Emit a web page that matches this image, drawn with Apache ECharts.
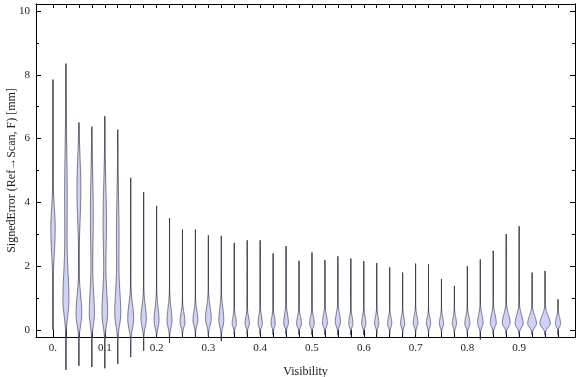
<!DOCTYPE html>
<html>
<head>
<meta charset="utf-8">
<script src="https://cdn.jsdelivr.net/npm/echarts@6/dist/echarts.min.js"></script>
<style>
  html, body { margin: 0; padding: 0; background: #fff; }
  #chart-panel { width: 576px; height: 377px; }
</style>
</head>
<body>
<div id="chart-panel"></div>
<script>
// violin positions (Visibility bins)
var visibility = [0, 0.025, 0.05, 0.075, 0.1, 0.125, 0.15, 0.175, 0.2, 0.225,
                  0.25, 0.275, 0.3, 0.325, 0.35, 0.375, 0.4, 0.425, 0.45, 0.475,
                  0.5, 0.525, 0.55, 0.575, 0.6, 0.625, 0.65, 0.675, 0.7, 0.725,
                  0.75, 0.775, 0.8, 0.825, 0.85, 0.875, 0.9, 0.925, 0.95, 0.975];
var maxError = [7.85, 8.35, 6.5, 6.37, 6.7, 6.28, 4.77, 4.32, 3.89, 3.51,
                3.15, 3.15, 2.97, 2.95, 2.73, 2.81, 2.81, 2.40, 2.63, 2.17,
                2.43, 2.19, 2.31, 2.24, 2.16, 2.10, 1.96, 1.80, 2.08, 2.06,
                1.60, 1.38, 2.0, 2.21, 2.48, 3.01, 3.25, 1.80, 1.85, 0.96];
var minError = [0, -1.25, -1.12, -1.16, -1.2, -1.06, -0.85, -0.65, -0.15, -0.4,
                -0.2, -0.2, -0.2, -0.35, -0.15, -0.15, -0.15, -0.15, -0.15, -0.15,
                -0.15, -0.15, -0.15, -0.15, -0.15, -0.15, -0.15, -0.15, -0.15, -0.15,
                -0.15, -0.15, -0.15, -0.3, -0.15, -0.15, -0.15, -0.15, -0.15, -0.15];
// main density peak: location, relative width, spread below / above
var modeError = [3.2, 0.9, 0.5, 0.5, 0.5, 0.5, 0.35, 0.35, 0.3, 0.3,
                 0.25, 0.3, 0.35, 0.3, 0.2, 0.2, 0.2, 0.2, 0.22, 0.2,
                 0.2, 0.22, 0.25, 0.2, 0.2, 0.2, 0.2, 0.2, 0.22, 0.2,
                 0.2, 0.2, 0.2, 0.22, 0.22, 0.22, 0.2, 0.2, 0.2, 0.2];
var peakDensity = [0.34, 0.44, 0.44, 0.38, 0.42, 0.44, 0.46, 0.42, 0.38, 0.38,
                   0.38, 0.38, 0.44, 0.38, 0.33, 0.33, 0.33, 0.33, 0.36, 0.38,
                   0.36, 0.38, 0.4, 0.33, 0.33, 0.33, 0.33, 0.33, 0.36, 0.33,
                   0.33, 0.33, 0.4, 0.42, 0.46, 0.6, 0.62, 0.68, 0.8, 0.4];
var spreadBelow = [0.8, 0.45, 0.35, 0.35, 0.35, 0.35, 0.3, 0.25, 0.22, 0.22,
                   0.16, 0.16, 0.2, 0.2, 0.11, 0.11, 0.11, 0.11, 0.12, 0.11,
                   0.11, 0.12, 0.13, 0.11, 0.11, 0.11, 0.11, 0.11, 0.12, 0.11,
                   0.11, 0.11, 0.11, 0.13, 0.12, 0.12, 0.12, 0.12, 0.12, 0.1];
var spreadAbove = [0.65, 0.9, 0.6, 0.7, 0.7, 0.7, 0.45, 0.4, 0.4, 0.4,
                   0.28, 0.3, 0.38, 0.4, 0.22, 0.22, 0.25, 0.22, 0.28, 0.22,
                   0.22, 0.25, 0.27, 0.22, 0.22, 0.22, 0.2, 0.2, 0.22, 0.2,
                   0.2, 0.2, 0.22, 0.26, 0.27, 0.27, 0.27, 0.24, 0.24, 0.2];
// second (upper) density bump, only for the lowest visibilities
var upperMode = [0, 4.2, 4.4, 3.6, 3.4, 3.0, 0, 0, 0, 0,
                 0, 0, 0, 0, 0, 0, 0, 0, 0, 0,
                 0, 0, 0, 0, 0, 0, 0, 0, 0, 0,
                 0, 0, 0, 0, 0, 0, 0, 0, 0, 0];
var upperDensity = [0, 0.2, 0.3, 0.22, 0.26, 0.2, 0, 0, 0, 0,
                    0, 0, 0, 0, 0, 0, 0, 0, 0, 0,
                    0, 0, 0, 0, 0, 0, 0, 0, 0, 0,
                    0, 0, 0, 0, 0, 0, 0, 0, 0, 0];
var upperSpread = [1, 1.6, 1.0, 1.3, 1.2, 1.2, 1, 1, 1, 1,
                   1, 1, 1, 1, 1, 1, 1, 1, 1, 1,
                   1, 1, 1, 1, 1, 1, 1, 1, 1, 1,
                   1, 1, 1, 1, 1, 1, 1, 1, 1, 1];
var xLabels = [0, 0.1, 0.2, 0.3, 0.4, 0.5, 0.6, 0.7, 0.8, 0.9];
var yMajor = [0, 2, 4, 6, 8, 10];
var yMinor = [1, 3, 5, 7, 9];
var binWidth = 0.025;

var violins = visibility.map(function (v, i) {
    return [v, minError[i], maxError[i], modeError[i], peakDensity[i],
            spreadBelow[i], spreadAbove[i], upperMode[i], upperDensity[i], upperSpread[i]];
});

var myChart = echarts.init(document.getElementById('chart-panel'), null, {renderer: 'canvas'});
var serif = 'Liberation Serif, Times New Roman, serif';
var lineStyle = {color: '#000', width: 1};

function yAxisOf(pos, ticks, len, labels) {
    return {
        type: 'value', position: pos, offset: 0,
        min: -0.22, max: 10.22,
        axisLine: {show: true, onZero: false, lineStyle: lineStyle},
        axisTick: {show: true, inside: true, length: len, customValues: ticks, lineStyle: lineStyle},
        axisLabel: labels ? {show: true, customValues: yMajor, margin: 6, color: '#222',
                             fontFamily: serif, fontSize: 11} : {show: false},
        splitLine: {show: false}
    };
}

var option = {
    animation: false,
    grid: {left: 36, right: 1, top: 4, bottom: 40, containLabel: false, outerBoundsMode: 'none'},
    xAxis: [{
        type: 'value', position: 'bottom',
        min: -0.0328, max: 1.0078,
        name: 'Visibility', nameLocation: 'middle', nameGap: 29, nameMoveOverlap: false,
        nameTextStyle: {fontFamily: serif, fontSize: 12, color: '#222'},
        axisLine: {show: true, onZero: false, lineStyle: lineStyle},
        axisTick: {show: true, inside: true, length: 7, customValues: visibility, lineStyle: lineStyle},
        axisLabel: {
            customValues: xLabels, margin: 6, color: '#222',
            fontFamily: serif, fontSize: 11,
            formatter: function (v) { return v === 0 ? '0.' : v.toFixed(1); }
        },
        splitLine: {show: false}
    }, {
        type: 'value', position: 'top',
        min: -0.0328, max: 1.0078,
        axisLine: {show: true, onZero: false, lineStyle: lineStyle},
        axisTick: {show: true, inside: true, length: 4, customValues: visibility, lineStyle: lineStyle},
        axisLabel: {show: false},
        splitLine: {show: false}
    }],
    yAxis: [
        Object.assign(yAxisOf('left', yMajor, 5, true), {
            name: 'SignedError (Ref\u2192Scan, F) [mm]', nameLocation: 'middle', nameGap: 18,
            nameMoveOverlap: false,
            nameTextStyle: {fontFamily: serif, fontSize: 12, color: '#222'}
        }),
        yAxisOf('left', yMinor, 3, false),
        yAxisOf('right', yMajor, 5, false),
        yAxisOf('right', yMinor, 3, false)
    ],
    series: [{
        type: 'custom',
        xAxisIndex: 0, yAxisIndex: 0,
        clip: false,
        encode: {x: 0, y: [1, 2]},
        data: violins,
        renderItem: function (params, api) {
            var x = api.value(0), lo = api.value(1), hi = api.value(2);
            var m = api.value(3), p = api.value(4), sLo = api.value(5), sHi = api.value(6);
            var m2 = api.value(7), p2 = api.value(8), s2 = api.value(9);
            var cx = api.coord([x, 0])[0];
            var half = api.size([binWidth, 0])[0] / 2;
            var right = [], left = [];
            var n = 90;
            for (var k = 0; k <= n; k++) {
                var v = lo + (hi - lo) * k / n;
                var s = v < m ? sLo : sHi;
                var d = p * Math.exp(-0.5 * Math.pow((v - m) / s, 2));
                if (p2 > 0) d += p2 * Math.exp(-0.5 * Math.pow((v - m2) / s2, 2));
                var w = d * half;
                var py = api.coord([x, v])[1];
                right.push([cx + w, py]);
                left.unshift([cx - w, py]);
            }
            var top = api.coord([x, hi]), bot = api.coord([x, lo]);
            return {
                type: 'group',
                children: [{
                    type: 'line',
                    shape: {x1: cx, y1: bot[1], x2: cx, y2: top[1]},
                    style: {stroke: 'rgba(30,30,40,0.8)', lineWidth: 1}
                }, {
                    type: 'polygon',
                    shape: {points: right.concat(left)},
                    style: {fill: '#cdd2f6', stroke: 'rgba(60,60,75,0.8)', lineWidth: 0.8}
                }]
            };
        }
    }]
};
myChart.setOption(option);
</script>
</body>
</html>
